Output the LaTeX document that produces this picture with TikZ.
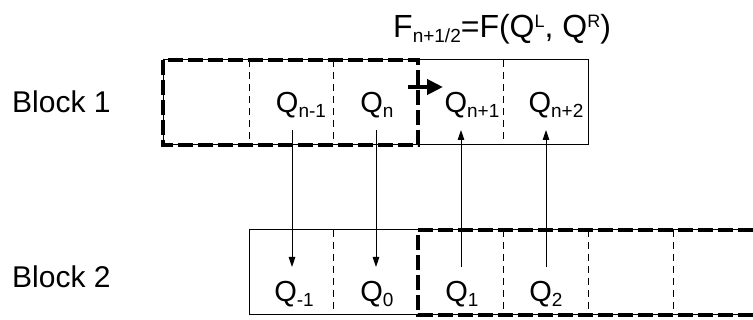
\documentclass[tikz,border=0pt]{standalone}
\usepackage{fontspec}
\setmainfont{Liberation Sans}
\usetikzlibrary{arrows.meta}

\newcommand{\lowsub}[1]{\raisebox{-5pt}{\fontsize{19}{19}\selectfont #1}}
\newcommand{\highsup}[1]{\raisebox{10pt}{\fontsize{18}{18}\selectfont #1}}

\begin{document}
\begin{tikzpicture}[x=1pt,y=-1pt,
  thinline/.style={line width=1pt},
  thinsep/.style={line width=0.9pt,dash pattern=on 7pt off 5pt},
  thickdash/.style={line width=3.5pt,dash pattern=on 15pt off 5pt},
  link/.style={line width=0.9pt,-{Triangle[length=10pt,width=6.5pt]}},
  qlabel/.style={anchor=base,inner sep=0pt,font=\fontsize{29}{29}\selectfont},
  blocklabel/.style={anchor=base west,inner sep=0pt,font=\fontsize{30}{30}\selectfont}]
  \useasboundingbox (0,0) rectangle (753,320);
  % Coordinates
  \coordinate (b1nw) at (163,60);
  \coordinate (b1se) at (588,145);
  \coordinate (b1mid) at (418,145);
  \coordinate (b2nw) at (249,230);
  \coordinate (b2mid) at (418,230);
  % Block 1 cells
  \draw[thinline] (b1nw) rectangle (b1se);
  \draw[thinsep] (249,60) -- (249,145);
  \draw[thinsep] (333,60) -- (333,145);
  \draw[thinsep] (503,60) -- (503,145);
  \draw[thickdash] (b1nw) rectangle (b1mid); % left part of block 1
  % Block 2 cells
  \draw[thinline] (753,230) -- (b2nw) |- (753,315);
  \draw[thinsep] (333,230) -- (333,315);
  \draw[thinsep] (503,230) -- (503,315);
  \draw[thinsep] (588,230) -- (588,315);
  \draw[thinsep] (673,230) -- (673,315);
  \draw[thickdash] (753,230) -- (b2mid) -- (418,315) -- (753,315); % right part of block 2

  % Labels
  \node[blocklabel] (blk1) at (12,113) {Block 1};
  \node[blocklabel] (blk2) at (12,288) {Block 2};
  \node[anchor=base west,inner sep=0pt,font=\fontsize{32}{32}\selectfont] (flux) at (393,38)
    {F\lowsub{n+1/2}=F(Q\highsup{L}, Q\highsup{R})};

  \node[qlabel] (qnm1) at (301,113) {Q\lowsub{n-1}};
  \node[qlabel] (qn) at (377,113) {Q\lowsub{n}};
  \node[qlabel] (qnp1) at (472,113) {Q\lowsub{n+1}};
  \node[qlabel] (qnp2) at (556,113) {Q\lowsub{n+2}};
  \node[qlabel] (qm1) at (294,302) {Q\lowsub{-1}};
  \node[qlabel] (q0) at (377,302) {Q\lowsub{0}};
  \node[qlabel] (q1) at (462,302) {Q\lowsub{1}};
  \node[qlabel] (q2) at (546,302) {Q\lowsub{2}};

  % Arrow ends
  \coordinate (s1) at (292,130);  \coordinate (e1) at (292,267);
  \coordinate (s2) at (376,130);  \coordinate (e2) at (376,267);
  \coordinate (s3) at (461,267);  \coordinate (e3) at (461,130);
  \coordinate (s4) at (546,267);  \coordinate (e4) at (546,130);
  \coordinate (fs) at (408,87);   \coordinate (fe) at (443,87);

  % Connectors
  \draw[link] (s1) -- (e1);
  \draw[link] (s2) -- (e2);
  \draw[link] (s3) -- (e3);
  \draw[link] (s4) -- (e4);
  \draw[line width=4pt,-{Triangle[length=16pt,width=15pt]}] (fs) -- (fe);
\end{tikzpicture}
\end{document}
